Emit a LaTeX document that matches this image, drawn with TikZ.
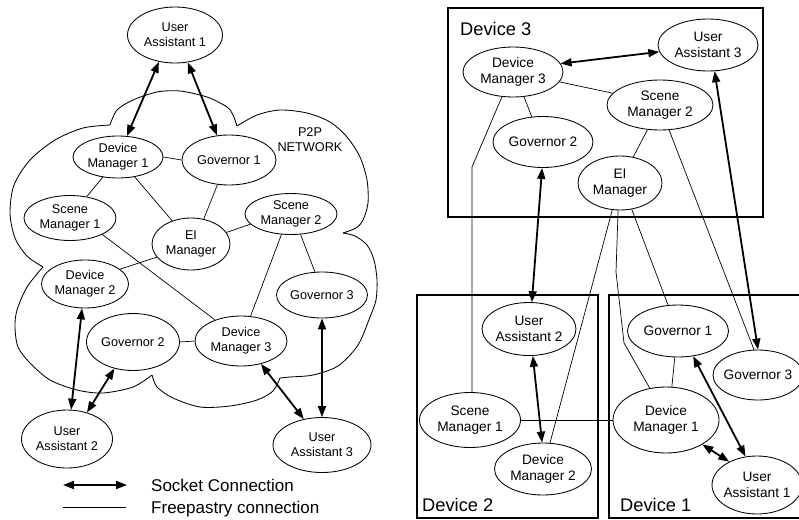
\documentclass[tikz,border=0pt]{standalone}
\usepackage{fontspec}
\setmainfont{Liberation Sans}
\usetikzlibrary{arrows.meta,calc,shapes.geometric}
\begin{document}
\begin{tikzpicture}[x=1pt,y=-1pt,
  el/.style={ellipse, draw, line width=0.85pt, inner xsep=-12pt, inner ysep=-8pt, align=center},
  fl/.style={font=\fontsize{12.7}{15}\selectfont},
  fr/.style={font=\fontsize{13.7}{16.5}\selectfont},
  sz/.style 2 args={minimum width=#1pt, minimum height=#2pt},
  sock/.style={line width=1.8pt, {Triangle[length=11pt,width=8pt]}-{Triangle[length=11pt,width=8pt]}},
  fp/.style={line width=0.7pt},
  devbox/.style={draw, line width=1.4pt},
  cloud/.style={line width=0.85pt},
  devlabel/.style={anchor=base west, font=\fontsize{18.3}{20}\selectfont, inner sep=0pt},
  legtext/.style={anchor=base west, font=\fontsize{17}{20}\selectfont, inner sep=0pt},
]
\useasboundingbox (0,0) rectangle (799,519);

% ---------------- LEFT: cloud ----------------
\draw[cloud] plot[smooth] coordinates {(110,125) (117,110) (133,100) (157,92) (180,91) (207,97) (227,107) (233,115) (237,126)};
\draw[cloud] plot[smooth] coordinates {(237,126) (257,115) (280,110) (307,113) (330,122) (347,137) (360,157) (367,180) (368,203) (363,220) (356,228) (343,233)};
\draw[cloud] plot[smooth] coordinates {(343,233) (355,236) (367,245) (374,260) (377,280) (376,300) (370,317) (358,345) (338,366) (313,375) (290,377) (280,378)};
\draw[cloud] plot[smooth] coordinates {(280,378) (273,391) (257,400) (230,406) (200,407) (173,398) (157,387) (152,375)};
\draw[cloud] plot[smooth] coordinates {(152,375) (133,387) (103,393) (77,390) (50,380) (30,363) (18,347) (15,327) (17,310) (27,287) (43,267)};
\draw[cloud] plot[smooth] coordinates {(43,267) (27,256) (15,238) (10,213) (14,185) (30,160) (55,140) (83,128) (110,125)};

\node[fl, align=center] (p2p) at (310,140) {P2P\\NETWORK};

% ---------------- LEFT: nodes ----------------
\node[el, fl, sz={95}{56}] (ua1L) at (175,35) {User\\Assistant 1};
\node[el, fl, sz={90}{42}] (dm1L) at (118,157) {Device\\Manager 1};
\node[el, fl, sz={94}{50}] (gov1L) at (229,160) {Governor 1};
\node[el, fl, sz={92}{45}] (sm1L) at (70,218) {Scene\\Manager 1};
\node[el, fl, sz={78}{52}] (eiL) at (191,244) {EI\\Manager};
\node[el, fl, sz={92}{41}] (sm2L) at (291,214) {Scene\\Manager 2};
\node[el, fl, sz={87}{48}] (dm2L) at (85,284) {Device\\Manager 2};
\node[el, fl, sz={91}{46}] (gov3L) at (322,295) {Governor 3};
\node[el, fl, sz={93}{57}] (gov2L) at (133,342) {Governor 2};
\node[el, fl, sz={92}{50}] (dm3L) at (241,341) {Device\\Manager 3};
\node[el, fl, sz={91}{58}] (ua2L) at (67,439) {User\\Assistant 2};
\node[el, fl, sz={98}{55}] (ua3L) at (322,445) {User\\Assistant 3};

% ---------------- LEFT: connections ----------------
\draw[sock] (ua1L.-121) -- (dm1L.67);
\draw[sock] (ua1L.-65) -- (gov1L.116);
\draw[fp] (dm1L.0) -- (gov1L.180);
\draw[fp] (dm1L.-127) -- (sm1L.52);
\draw[fp] (dm1L.-50) -- (eiL.129);
\draw[fp] (gov1L.-115) -- (eiL.63);
\draw[fp] (eiL.18) -- (sm2L.194);
\draw[fp] (sm1L.-27) -- (dm3L.141);
\draw[fp] (dm2L.23) -- (eiL.201);
\draw[fp] (sm2L.-115) -- (dm3L.69);
\draw[fp] (sm2L.-65) -- (gov3L.107);
\draw[fp] (gov2L.0) -- (dm3L.180);
\draw[sock] (dm2L.-97) -- (ua2L.82);
\draw[sock] (gov2L.-125) -- (ua2L.53);
\draw[sock] (dm3L.-49) -- (ua3L.125);
\draw[sock] (gov3L.-90) -- (ua3L.90);

% ---------------- LEGEND ----------------
\coordinate (lgA) at (63,485);
\coordinate (lgB) at (127,485);
\coordinate (lgC) at (63,507);
\coordinate (lgD) at (126,507);
\draw[sock] (lgA) -- (lgB);
\draw[fp] (lgC) -- (lgD);
\node[legtext] (legS) at (151,491) {Socket Connection};
\node[legtext] (legF) at (151,513) {Freepastry connection};

% ---------------- RIGHT: device boxes ----------------
\draw[devbox] (448,8) rectangle (763,217);
\draw[devbox] (417,295) rectangle (598,518);
\draw[devbox] (609,295) rectangle (805,518);
\node[devlabel] (d3) at (460,35.6) {Device 3};
\node[devlabel] (d2) at (422,511.6) {Device 2};
\node[devlabel] (d1) at (620,511.6) {Device 1};

% ---------------- RIGHT: nodes ----------------
\node[el, fr, sz={100}{50}] (dm3R) at (513,72) {Device\\Manager 3};
\node[el, fr, sz={100}{52}] (ua3R) at (708,45) {User\\Assistant 3};
\node[el, fr, sz={106}{50}] (sm2R) at (660,105) {Scene\\Manager 2};
\node[el, fr, sz={100}{51}] (gov2R) at (543,142) {Governor 2};
\node[el, fr, sz={84}{54}] (eiR) at (620,183) {EI\\Manager};
\node[el, fr, sz={94}{53}] (ua2R) at (529,329) {User\\Assistant 2};
\node[el, fr, sz={101}{55}] (sm1R) at (470,420) {Scene\\Manager 1};
\node[el, fr, sz={97}{52}] (dm2R) at (543,469) {Device\\Manager 2};
\node[el, fr, sz={101}{52}] (gov1R) at (678,331) {Governor 1};
\node[el, fr, sz={106}{66}] (dm1R) at (666,420) {Device\\Manager 1};
\node[el, fr, sz={90}{50}] (gov3R) at (758,375) {Governor 3};
\node[el, fr, sz={90}{58}] (ua1R) at (757,485) {User\\Assistant 1};

% ---------------- RIGHT: connections ----------------
\coordinate (bA) at (472,167);
\coordinate (bB) at (616,272);
\coordinate (bC) at (624,343);
\draw[sock] (dm3R.10) -- (ua3R.188);
\draw[fp] (dm3R.-12) -- (sm2R.166);
\draw[fp] (dm3R.-66) -- (gov2R.114);
\draw[fp] (dm3R.-114) -- (bA) -- (bA |- sm1R.north);
\draw[fp] (sm2R.-117) -- (eiR.63);
\draw[fp] (sm2R.-70) -- (gov3R.99);
\draw[sock] (ua3R.-76) -- (gov3R.90);
\draw[sock] (gov2R.-92) -- (ua2R.84);
\draw[fp] (eiR.-106) -- (dm2R.75);
\draw[fp] (eiR.-94) -- (bB) -- (bC) -- (dm1R.117);
\draw[fp] (eiR.-66) -- (gov1R.111);
\draw[fp] (gov1R.-97) -- (dm1R.80);
\draw[sock] (gov1R.-59) -- (ua1R.112);
\draw[sock] (dm1R.-34) -- (ua1R.140);
\draw[fp] (sm1R.0) -- (dm1R.180);
\draw[sock] (ua2R.-82) -- (dm2R.92);
\end{tikzpicture}
\end{document}
